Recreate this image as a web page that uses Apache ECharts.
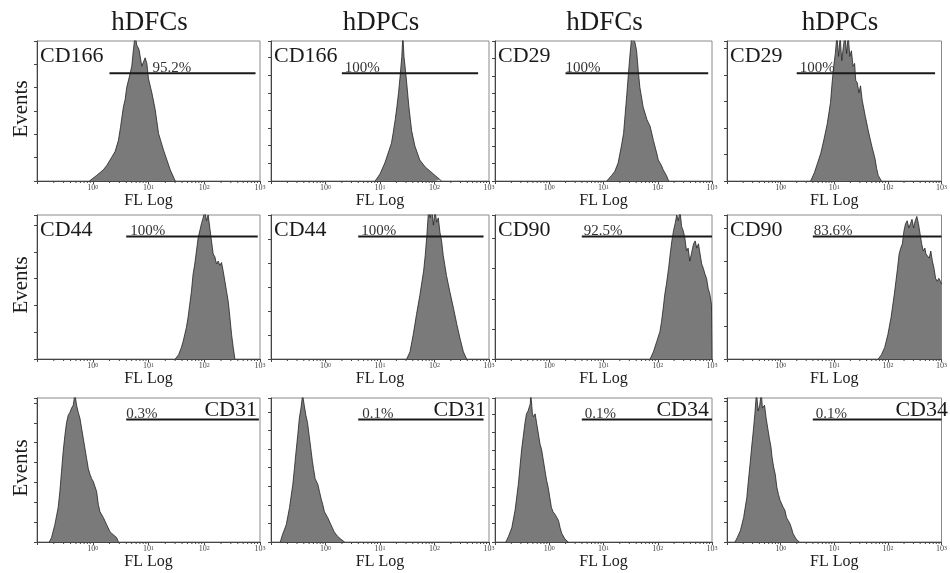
<!DOCTYPE html>
<html>
<head>
<meta charset="utf-8">
<script src="https://cdn.jsdelivr.net/npm/echarts@6/dist/echarts.min.js"></script>
<style>
  html, body { margin: 0; padding: 0; background: #fff; }
  #chart { width: 950px; height: 573px; }
</style>
</head>
<body>
<div id="chart"></div>
<script>
// ---- data ----
var cellTypes = ['hDFCs', 'hDPCs', 'hDFCs', 'hDPCs'];
var markers = [
  ['CD166', 'CD166', 'CD29', 'CD29'],
  ['CD44', 'CD44', 'CD90', 'CD90'],
  ['CD31', 'CD31', 'CD34', 'CD34']
];
var percents = [
  ['95.2%', '100%', '100%', '100%'],
  ['100%', '100%', '92.5%', '83.6%'],
  ['0.3%', '0.1%', '0.1%', '0.1%']
];
// gate range, log10(FL)
var gateStart = [0.3, 0.6, 0.6];
var gateEnd = [
  [2.92, 2.8, 2.93, 2.88],
  [2.96, 2.9, 3, 3],
  [2.98, 2.9, 3, 3]
];
var decades = [-1, 0, 1, 2, 3];

// histograms: [log10 FL, events (% of panel height)]
var h_r1c1 = [[-0.06,0],[0.07,4],[0.19,8],[0.25,11],[0.34,17],[0.40,21],[0.46,29],[0.50,39],[0.55,53],[0.58,58],[0.61,67],[0.66,75],[0.70,82],[0.73,94],[0.76,104],[0.79,97],[0.83,94],[0.88,82],[0.91,83],[0.94,88],[0.97,84],[1.00,73],[1.06,63],[1.12,51],[1.18,34],[1.27,22],[1.33,15],[1.39,8],[1.48,0]];
var h_r1c2 = [[0.91,0],[1.00,5],[1.09,13],[1.15,20],[1.21,27],[1.24,34],[1.28,44],[1.31,53],[1.34,63],[1.37,75],[1.40,89],[1.42,104],[1.44,89],[1.47,78],[1.49,70],[1.53,53],[1.58,36],[1.64,25],[1.73,15],[1.83,10],[1.92,7],[2.01,4],[2.10,1],[2.13,0]];
var h_r1c3 = [[1.06,0],[1.15,4],[1.21,7],[1.27,13],[1.33,25],[1.37,34],[1.40,48],[1.43,62],[1.46,77],[1.49,91],[1.52,103],[1.55,104],[1.58,99],[1.61,93],[1.64,79],[1.67,67],[1.73,53],[1.80,44],[1.86,39],[1.92,29],[1.98,20],[2.01,15],[2.04,13],[2.07,11],[2.10,8],[2.16,4],[2.20,0]];
var h_r1c4 = [[0.56,0],[0.63,6],[0.69,13],[0.75,20],[0.81,30],[0.87,41],[0.93,56],[0.96,70],[0.99,82],[1.02,91],[1.05,104],[1.08,89],[1.11,103],[1.14,86],[1.17,96],[1.20,104],[1.23,91],[1.26,104],[1.29,89],[1.32,93],[1.35,82],[1.38,84],[1.40,72],[1.43,70],[1.46,63],[1.49,68],[1.52,58],[1.58,46],[1.64,35],[1.70,25],[1.76,16],[1.79,9],[1.82,4],[1.88,0]];
var h_r2c1 = [[1.48,0],[1.54,3],[1.59,8],[1.62,12],[1.65,17],[1.68,22],[1.71,29],[1.74,38],[1.77,47],[1.80,59],[1.83,66],[1.86,75],[1.89,84],[1.92,89],[1.95,94],[1.98,98],[2.01,103],[2.04,96],[2.07,100],[2.10,91],[2.13,82],[2.16,73],[2.19,71],[2.22,66],[2.25,68],[2.28,65],[2.31,67],[2.34,61],[2.37,54],[2.40,47],[2.43,40],[2.46,29],[2.49,17],[2.52,8],[2.55,0]];
var h_r2c2 = [[1.49,0],[1.55,5],[1.61,17],[1.67,31],[1.73,44],[1.80,61],[1.83,72],[1.86,86],[1.89,103],[1.92,98],[1.95,104],[1.98,93],[2.01,103],[2.04,95],[2.07,98],[2.10,88],[2.13,82],[2.16,72],[2.22,58],[2.28,47],[2.35,35],[2.41,24],[2.47,14],[2.53,5],[2.59,0]];
var h_r2c3 = [[1.86,0],[1.92,5],[1.98,12],[2.04,19],[2.07,26],[2.10,35],[2.13,45],[2.16,52],[2.20,63],[2.23,73],[2.26,82],[2.29,89],[2.32,94],[2.35,100],[2.38,96],[2.41,103],[2.44,92],[2.47,89],[2.50,84],[2.53,75],[2.56,77],[2.59,68],[2.62,73],[2.66,80],[2.69,82],[2.72,77],[2.75,80],[2.78,73],[2.81,66],[2.84,63],[2.87,59],[2.90,56],[2.93,49],[2.96,45],[2.99,38],[3.00,0]];
var h_r2c4 = [[1.82,0],[1.88,3],[1.94,8],[2.00,17],[2.06,29],[2.12,45],[2.15,54],[2.18,63],[2.21,73],[2.24,77],[2.27,80],[2.30,89],[2.33,94],[2.36,96],[2.39,91],[2.42,94],[2.45,97],[2.48,91],[2.51,96],[2.54,99],[2.57,94],[2.60,87],[2.63,80],[2.66,75],[2.69,77],[2.71,73],[2.74,74],[2.77,70],[2.80,75],[2.83,68],[2.86,63],[2.89,56],[2.92,54],[2.95,56],[2.98,54],[3.00,52]];
var h_r3c1 = [[-0.78,0],[-0.74,3],[-0.68,12],[-0.62,24],[-0.59,35],[-0.56,49],[-0.53,63],[-0.50,74],[-0.47,83],[-0.44,88],[-0.41,90],[-0.38,93],[-0.35,95],[-0.32,103],[-0.29,95],[-0.26,90],[-0.23,86],[-0.20,79],[-0.17,72],[-0.14,65],[-0.11,58],[-0.08,51],[-0.05,47],[-0.02,44],[0.01,42],[0.04,43],[0.07,35],[0.10,26],[0.13,21],[0.19,17],[0.25,12],[0.31,7],[0.37,5],[0.43,3],[0.46,0]];
var h_r3c2 = [[-0.83,0],[-0.79,5],[-0.72,12],[-0.66,24],[-0.60,40],[-0.57,51],[-0.54,63],[-0.51,74],[-0.48,86],[-0.45,93],[-0.42,102],[-0.39,95],[-0.36,88],[-0.33,83],[-0.30,74],[-0.27,65],[-0.24,56],[-0.22,51],[-0.19,44],[-0.14,40],[-0.11,35],[-0.08,30],[-0.05,26],[-0.02,21],[0.04,17],[0.10,12],[0.16,7],[0.22,4],[0.28,2],[0.35,0]];
var h_r3c3 = [[-0.80,0],[-0.75,4],[-0.69,10],[-0.63,22],[-0.57,40],[-0.51,64],[-0.45,82],[-0.42,89],[-0.39,91],[-0.35,96],[-0.34,103],[-0.31,89],[-0.29,87],[-0.26,89],[-0.23,82],[-0.20,75],[-0.17,68],[-0.14,64],[-0.11,57],[-0.08,50],[-0.05,43],[-0.02,38],[0.01,31],[0.04,24],[0.07,21],[0.11,19],[0.14,17],[0.17,15],[0.20,10],[0.23,6],[0.29,2],[0.35,0]];
var h_r3c4 = [[-0.85,0],[-0.81,3],[-0.75,8],[-0.69,17],[-0.63,31],[-0.60,43],[-0.57,54],[-0.54,66],[-0.51,77],[-0.48,89],[-0.45,104],[-0.42,91],[-0.39,95],[-0.36,104],[-0.34,93],[-0.30,95],[-0.27,86],[-0.24,79],[-0.21,72],[-0.18,66],[-0.16,59],[-0.13,52],[-0.10,47],[-0.07,38],[-0.04,33],[-0.01,29],[0.05,24],[0.08,22],[0.11,17],[0.14,15],[0.17,13],[0.20,10],[0.23,6],[0.29,2],[0.35,0]];
var hists = [
  [h_r1c1, h_r1c2, h_r1c3, h_r1c4],
  [h_r2c1, h_r2c2, h_r2c3, h_r2c4],
  [h_r3c1, h_r3c2, h_r3c3, h_r3c4]
];

// ---- layout ----
var colLeft = [37, 271, 495, 727], colWidth = [223, 218, 217, 224];
var rowTop = [41, 215, 398], rowHeight = [140, 144, 144];
var gateLevel = [77, 85, 85];
var yTickStep = [[16.7, 12.6, 12.5, 18.9], [18.6, 16.7, 20.9, 22.7], [13.8, 12.9, 12.7, 14]];
var pctShift = [[43, 3, 0, 3], [4, 3, 2, 1], [0, 4, 3, 3]];
var serif = 'Liberation Serif';

// log minor ticks (2..9 of each decade)
var minorTicks = [];
decades.slice(0, 4).forEach(function (d) {
  for (var k = 2; k <= 9; k++) minorTicks.push([d + Math.log10(k), 0]);
});

var grids = [], xAxes = [], yAxes = [], series = [], graphics = [];

for (var r = 0; r < 3; r++) {
  for (var c = 0; c < 4; c++) {
    var i = grids.length;
    grids.push({
      left: colLeft[c], top: rowTop[r], width: colWidth[c], height: rowHeight[r],
      show: true, borderColor: '#8a8a8a', borderWidth: 1, backgroundColor: 'transparent'
    });
    xAxes.push({
      gridIndex: i, type: 'value', min: -1, max: 3, interval: 1,
      axisLine: { show: true, onZero: false, lineStyle: { color: '#444', width: 1 } },
      axisTick: { show: true, length: 3, lineStyle: { color: '#444' } },
      splitLine: { show: false },
      axisLabel: {
        show: true, margin: 3, fontSize: 8, color: '#444', fontFamily: serif,
        formatter: function (v) { return v < 0 ? '' : '10{s|' + v + '}'; },
        rich: { s: { fontSize: 6, color: '#444', verticalAlign: 'top' } }
      },
      name: 'FL Log', nameLocation: 'middle', nameGap: 10,
      nameTextStyle: { fontFamily: serif, fontSize: 16, color: '#1a1a1a' }
    });
    yAxes.push({
      gridIndex: i, type: 'value', min: 0, max: 100, interval: yTickStep[r][c],
      axisLine: { show: true, onZero: false, lineStyle: { color: '#444', width: 1 } },
      axisTick: { show: true, length: 3, lineStyle: { color: '#444' } },
      axisLabel: { show: false },
      splitLine: { show: false }
    });

    // histogram
    series.push({
      type: 'line', xAxisIndex: i, yAxisIndex: i, data: hists[r][c],
      symbol: 'none', clip: true, silent: true,
      lineStyle: { color: '#222', width: 0.8 },
      areaStyle: { color: '#7a7a7a', opacity: 1 }
    });

    // gate marker line + percentage
    series.push({
      type: 'line', xAxisIndex: i, yAxisIndex: i, silent: true, z: 5,
      symbol: 'circle', symbolSize: 0,
      lineStyle: { color: '#1a1a1a', width: 2 },
      data: [
        {
          value: [gateStart[r], gateLevel[r]],
          label: {
            show: true, formatter: percents[r][c], position: 'top', distance: 0,
            align: 'left', offset: [pctShift[r][c], 2],
            fontFamily: serif, fontSize: 15, color: '#333'
          }
        },
        [gateEnd[r][c], gateLevel[r]]
      ]
    });

    // minor ticks on the log axis
    series.push({
      type: 'custom', xAxisIndex: i, yAxisIndex: i, silent: true, clip: false,
      data: minorTicks,
      renderItem: function (params, api) {
        var p = api.coord([api.value(0), 0]);
        return {
          type: 'line',
          shape: { x1: p[0], y1: p[1], x2: p[0], y2: p[1] + 2 },
          style: { stroke: '#444', lineWidth: 1 }
        };
      }
    });

    // marker name
    var top3 = r === 2;
    graphics.push({
      type: 'text',
      x: top3 ? colLeft[c] + colWidth[c] - 3 : colLeft[c] + 3,
      y: rowTop[r] + (top3 ? 12 : 15),
      style: {
        text: markers[r][c], fontFamily: serif, fontSize: 22, fill: '#1a1a1a',
        align: top3 ? 'right' : 'left', verticalAlign: 'middle'
      }
    });
  }
  // y axis title
  graphics.push({
    type: 'text', x: 21, y: rowTop[r] + rowHeight[r] / 2 - 2, rotation: Math.PI / 2,
    style: { text: 'Events', fontFamily: serif, fontSize: 21, fill: '#1a1a1a', align: 'center', verticalAlign: 'middle' }
  });
}

// column titles
cellTypes.forEach(function (t, c) {
  graphics.push({
    type: 'text', x: colLeft[c] + colWidth[c] / 2 + 1, y: 23,
    style: { text: t, fontFamily: serif, fontSize: 27, fill: '#1a1a1a', align: 'center', verticalAlign: 'middle' }
  });
});

var myChart = echarts.init(document.getElementById('chart'));
myChart.setOption({
  animation: false,
  backgroundColor: '#fff',
  grid: grids,
  xAxis: xAxes,
  yAxis: yAxes,
  series: series,
  graphic: graphics
});
</script>
</body>
</html>
